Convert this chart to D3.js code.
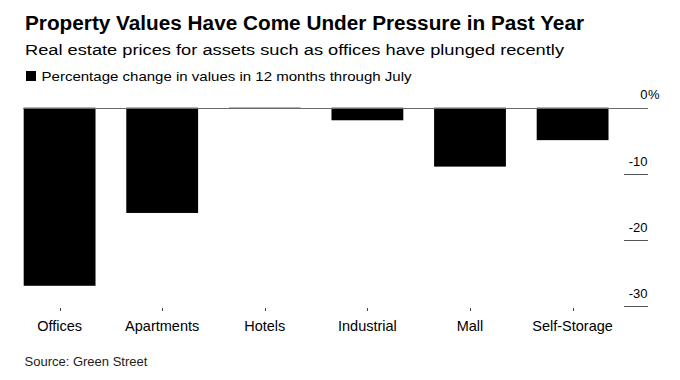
<!DOCTYPE html>
<html>
<head>
<meta charset="utf-8">
<script src="https://cdn.jsdelivr.net/npm/d3@7"></script>
<style>
  html, body { margin: 0; padding: 0; background: #fff; }
  svg { display: block; font-family: "Liberation Sans", Arial, Helvetica, sans-serif; }
</style>
</head>
<body>
<svg id="chart" width="680" height="380"></svg>
<script>
const categories = ["Offices", "Apartments", "Hotels", "Industrial", "Mall", "Self-Storage"];
const values = [-26.9, -15.9, -0.1, -1.9, -8.9, -4.9];
const yTicks = [0, -10, -20, -30];
const yTickLabels = ["0", "-10", "-20", "-30"];
const title = "Property Values Have Come Under Pressure in Past Year";
const subtitle = "Real estate prices for assets such as offices have plunged recently";
const legendLabel = "Percentage change in values in 12 months through July";
const source = "Source: Green Street";

const svg = d3.select("#chart");

const x = d3.scaleBand()
  .domain(categories)
  .range([8.3, 623.9])
  .paddingInner(0.3)
  .paddingOuter(0.15);

const y = d3.scaleLinear()
  .domain([0, -30])
  .range([107.7, 306.3]);

// Title block
svg.append("text")
  .attr("x", 25).attr("y", 30)
  .attr("font-size", 19.5).attr("font-weight", "bold").attr("fill", "#000")
  .attr("textLength", 559).attr("lengthAdjust", "spacingAndGlyphs")
  .text(title);

svg.append("text")
  .attr("x", 25).attr("y", 55)
  .attr("font-size", 15.5).attr("fill", "#000")
  .attr("textLength", 539).attr("lengthAdjust", "spacingAndGlyphs")
  .text(subtitle);

svg.append("rect")
  .attr("x", 26).attr("y", 71).attr("width", 10).attr("height", 10)
  .attr("fill", "#000");

svg.append("text")
  .attr("x", 41.5).attr("y", 80.7)
  .attr("font-size", 13.5).attr("fill", "#000")
  .attr("textLength", 370).attr("lengthAdjust", "spacingAndGlyphs")
  .text(legendLabel);

// Y gridline stubs on the right
const grid = svg.append("g");
grid.selectAll("line.stub")
  .data(yTicks.filter(d => d !== 0))
  .join("line")
  .attr("class", "stub")
  .attr("x1", 624).attr("x2", 648)
  .attr("y1", d => Math.round(y(d)) + 0.5)
  .attr("y2", d => Math.round(y(d)) + 0.5)
  .attr("stroke", "#555").attr("stroke-width", 1);

// Y labels
grid.selectAll("text.ylab")
  .data(yTicks)
  .join("text")
  .attr("class", "ylab")
  .attr("x", 647.5)
  .attr("y", d => y(d) - 8.3)
  .attr("text-anchor", "end")
  .attr("font-size", 13).attr("fill", "#000")
  .text((d, i) => yTickLabels[i]);

svg.append("text")
  .attr("x", 648).attr("y", y(0) - 8.3)
  .attr("font-size", 13).attr("fill", "#000")
  .text("%");

// Bars
svg.append("g").selectAll("rect")
  .data(categories.map((c, i) => ({ c, v: values[i] })))
  .join("rect")
  .attr("x", d => x(d.c))
  .attr("width", x.bandwidth())
  .attr("y", y(0))
  .attr("height", d => Math.max(0.6, y(d.v) - y(0)))
  .attr("fill", "#000");

// Zero line
svg.append("line")
  .attr("x1", 23).attr("x2", 648)
  .attr("y1", Math.round(y(0)) + 0.5).attr("y2", Math.round(y(0)) + 0.5)
  .attr("stroke", "#6a6a6a").attr("stroke-width", 1);

// X axis ticks and labels
const xa = svg.append("g");
xa.selectAll("line")
  .data(categories)
  .join("line")
  .attr("x1", d => Math.round(x(d) + x.bandwidth() / 2) + 0.5)
  .attr("x2", d => Math.round(x(d) + x.bandwidth() / 2) + 0.5)
  .attr("y1", 308).attr("y2", 311)
  .attr("stroke", "#444").attr("stroke-width", 1);

xa.selectAll("text")
  .data(categories)
  .join("text")
  .attr("x", d => x(d) + x.bandwidth() / 2)
  .attr("y", 330.7)
  .attr("text-anchor", "middle")
  .attr("font-size", 14.5).attr("fill", "#000")
  .text(d => d);

// Source
svg.append("text")
  .attr("x", 24.5).attr("y", 366)
  .attr("font-size", 13).attr("fill", "#222")
  .text(source);
</script>
</body>
</html>
